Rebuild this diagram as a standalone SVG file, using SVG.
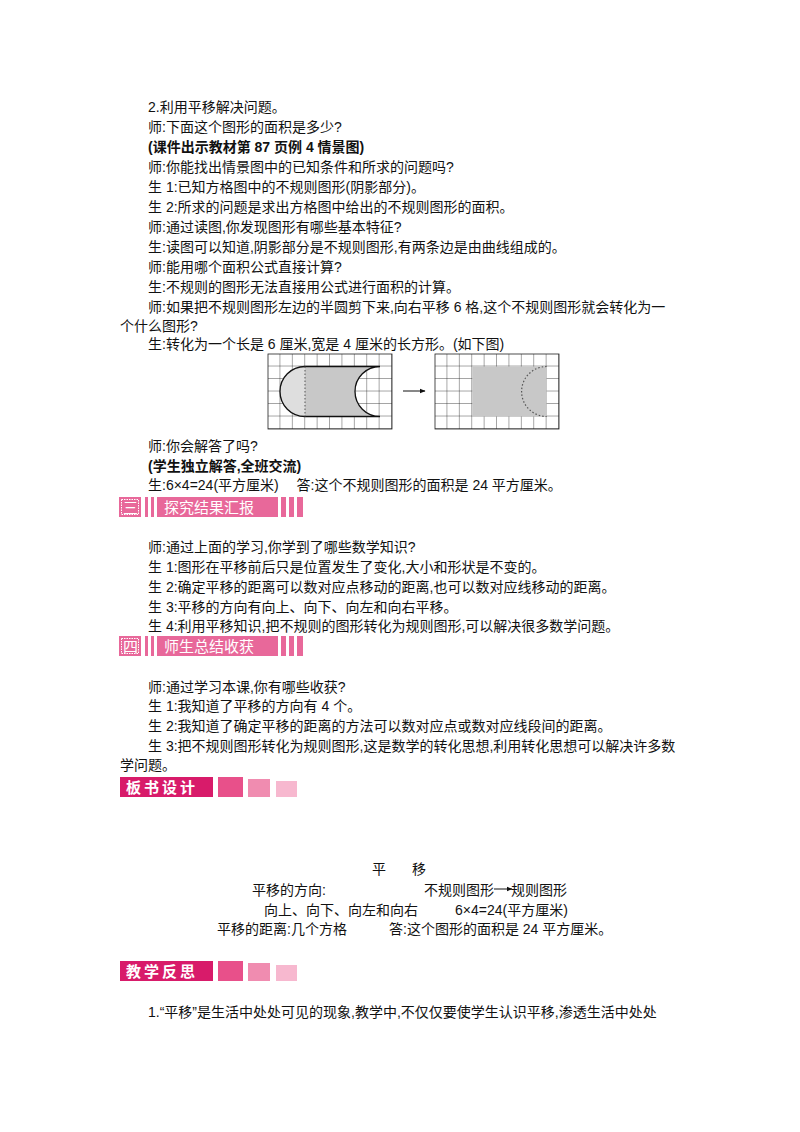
<svg xmlns="http://www.w3.org/2000/svg" width="800" height="1132" viewBox="0 0 800 1132">
<style>
text{font-family:"Liberation Sans","Noto Sans CJK SC",sans-serif;font-size:14px;fill:#111}
.g{stroke:#222;stroke-width:0.8;fill:none}
.hd{fill:#fff;font-size:15px}
</style>
<defs>
<marker id="ah" viewBox="0 0 10 10" refX="9" refY="5" markerWidth="6" markerHeight="6" orient="auto"><path d="M0,1L10,5L0,9z" fill="#111"/></marker>
<pattern id="gridL" width="12.4" height="12.5" patternUnits="userSpaceOnUse" x="268" y="354"><path d="M12.4,0V12.5M0,12.5H12.4" stroke="#222" stroke-width="0.8" fill="none"/></pattern>
<pattern id="gridR" width="12.4" height="12.5" patternUnits="userSpaceOnUse" x="435" y="354"><path d="M12.4,0V12.5M0,12.5H12.4" stroke="#222" stroke-width="0.8" fill="none"/></pattern>
</defs>
<rect width="800" height="1132" fill="#fff"/>
<g id="text1">
<text x="148" y="112">2.利用平移解决问题。</text>
<text x="148" y="132">师:下面这个图形的面积是多少?</text>
<text x="148" y="152" font-weight="bold">(课件出示教材第 87 页例 4 情景图)</text>
<text x="148" y="172">师:你能找出情景图中的已知条件和所求的问题吗?</text>
<text x="148" y="192">生 1:已知方格图中的不规则图形(阴影部分)。</text>
<text x="148" y="212">生 2:所求的问题是求出方格图中给出的不规则图形的面积。</text>
<text x="148" y="232">师:通过读图,你发现图形有哪些基本特征?</text>
<text x="148" y="252">生:读图可以知道,阴影部分是不规则图形,有两条边是由曲线组成的。</text>
<text x="148" y="272">师:能用哪个面积公式直接计算?</text>
<text x="148" y="292">生:不规则的图形无法直接用公式进行面积的计算。</text>
<text x="148" y="312">师:如果把不规则图形左边的半圆剪下来,向右平移 6 格,这个不规则图形就会转化为一</text>
<text x="120" y="331">个什么图形?</text>
<text x="148" y="349">生:转化为一个长是 6 厘米,宽是 4 厘米的长方形。(如下图)</text>
</g>
<g id="fig-left">
<rect x="268" y="354" width="124" height="75" fill="url(#gridL)"/>
<path d="M305,366.5H380A25,25 0 0 0 380,416.5H305A25,25 0 0 1 305,366.5Z" fill="#c8c8c8"/>
<path d="M305,366.5A25,25 0 0 0 305,416.5Z" fill="#dedede"/>
<rect x="268" y="354" width="124" height="75" class="g" stroke-width="1.2"/>
<path d="M305,366.5H380A25,25 0 0 0 380,416.5H305A25,25 0 0 1 305,366.5" fill="none" stroke="#111" stroke-width="1.3"/>
<line x1="305" y1="366.5" x2="305" y2="416.5" stroke="#555" stroke-dasharray="1.5,2"/>
</g>
<g id="fig-right">
<rect x="435" y="354" width="124" height="75" fill="url(#gridR)"/>
<rect x="472.2" y="366.5" width="74.4" height="50" fill="#c8c8c8"/>
<rect x="435" y="354" width="124" height="75" class="g" stroke-width="1.2"/>
<path d="M546.6,366.5A25,25 0 0 0 546.6,416.5" fill="none" stroke="#555" stroke-width="1.2" stroke-dasharray="1.5,2"/>
</g>
<g id="connectors">
<line x1="403" y1="391" x2="425" y2="391" stroke="#111" stroke-width="1" marker-end="url(#ah)"/>
<line x1="494" y1="889" x2="512" y2="889" stroke="#111" stroke-width="1" marker-end="url(#ah)"/>
</g>
<g id="text2">
<text x="148" y="451">师:你会解答了吗?</text>
<text x="148" y="471" font-weight="bold">(学生独立解答,全班交流)</text>
<text x="148" y="490">生:6×4=24(平方厘米)　 答:这个不规则图形的面积是 24 平方厘米。</text>
</g>
<g id="hdr3">
<rect x="119" y="497" width="22" height="20" fill="#e8689a"/>
<rect x="121.5" y="499.5" width="17" height="15" fill="none" stroke="#fff" stroke-dasharray="1.5,1"/>
<text x="123" y="513" class="hd">三</text>
<rect x="145" y="497" width="3" height="20" fill="#e8689a"/><rect x="151" y="497" width="3" height="20" fill="#e8689a"/>
<rect x="157" y="497" width="121" height="20" fill="#e8689a"/>
<text x="164" y="513" class="hd" fill="#fde">探究结果汇报</text>
<rect x="281" y="497" width="5" height="20" fill="#e8689a"/><rect x="289" y="497" width="5" height="20" fill="#e8689a"/><rect x="297" y="497" width="6" height="20" fill="#e8689a"/>
</g>
<g id="text3">
<text x="148" y="552">师:通过上面的学习,你学到了哪些数学知识?</text>
<text x="148" y="572">生 1:图形在平移前后只是位置发生了变化,大小和形状是不变的。</text>
<text x="148" y="592">生 2:确定平移的距离可以数对应点移动的距离,也可以数对应线移动的距离。</text>
<text x="148" y="612">生 3:平移的方向有向上、向下、向左和向右平移。</text>
<text x="148" y="631">生 4:利用平移知识,把不规则的图形转化为规则图形,可以解决很多数学问题。</text>
</g>
<g id="hdr4">
<rect x="119" y="636" width="22" height="20" fill="#e8689a"/>
<rect x="121.5" y="638.5" width="17" height="15" fill="none" stroke="#fff" stroke-dasharray="1.5,1"/>
<text x="123" y="652" class="hd">四</text>
<rect x="145" y="636" width="3" height="20" fill="#e8689a"/><rect x="151" y="636" width="3" height="20" fill="#e8689a"/>
<rect x="157" y="636" width="121" height="20" fill="#e8689a"/>
<text x="164" y="652" class="hd" fill="#fde">师生总结收获</text>
<rect x="281" y="636" width="5" height="20" fill="#e8689a"/><rect x="289" y="636" width="5" height="20" fill="#e8689a"/><rect x="297" y="636" width="6" height="20" fill="#e8689a"/>
</g>
<g id="text4">
<text x="148" y="692">师:通过学习本课,你有哪些收获?</text>
<text x="148" y="711">生 1:我知道了平移的方向有 4 个。</text>
<text x="148" y="731">生 2:我知道了确定平移的距离的方法可以数对应点或数对应线段间的距离。</text>
<text x="148" y="751">生 3:把不规则图形转化为规则图形,这是数学的转化思想,利用转化思想可以解决许多数</text>
<text x="120" y="770">学问题。</text>
</g>
<g id="hdr-board">
<rect x="120" y="777" width="93" height="20" fill="#d81b6a"/>
<text x="126" y="793" class="hd" font-weight="bold" letter-spacing="3">板书设计</text>
<rect x="218" y="777" width="25" height="20" fill="#e8508a"/>
<rect x="248" y="779" width="22" height="18" fill="#f08cb0"/>
<rect x="276" y="781" width="21" height="16" fill="#f7b8cf"/>
</g>
<g id="board">
<text x="372" y="874">平</text><text x="412" y="874">移</text>
<text x="252" y="895">平移的方向:</text>
<text x="424" y="895">不规则图形</text>
<text x="511" y="895">规则图形</text>
<text x="264" y="915">向上、向下、向左和向右</text>
<text x="455" y="915" font-size="13">6×4=24(平方厘米)</text>
<text x="217" y="934">平移的距离:几个方格</text>
<text x="389" y="934">答:这个图形的面积是 24 平方厘米。</text>
</g>
<g id="hdr-reflect">
<rect x="120" y="961" width="93" height="20" fill="#d81b6a"/>
<text x="126" y="977" class="hd" font-weight="bold" letter-spacing="3">教学反思</text>
<rect x="218" y="961" width="25" height="20" fill="#e8508a"/>
<rect x="248" y="963" width="22" height="18" fill="#f08cb0"/>
<rect x="276" y="965" width="21" height="16" fill="#f7b8cf"/>
</g>
<g id="text5">
<text x="148" y="1017">1.“平移”是生活中处处可见的现象,教学中,不仅仅要使学生认识平移,渗透生活中处处</text>
</g>
</svg>
